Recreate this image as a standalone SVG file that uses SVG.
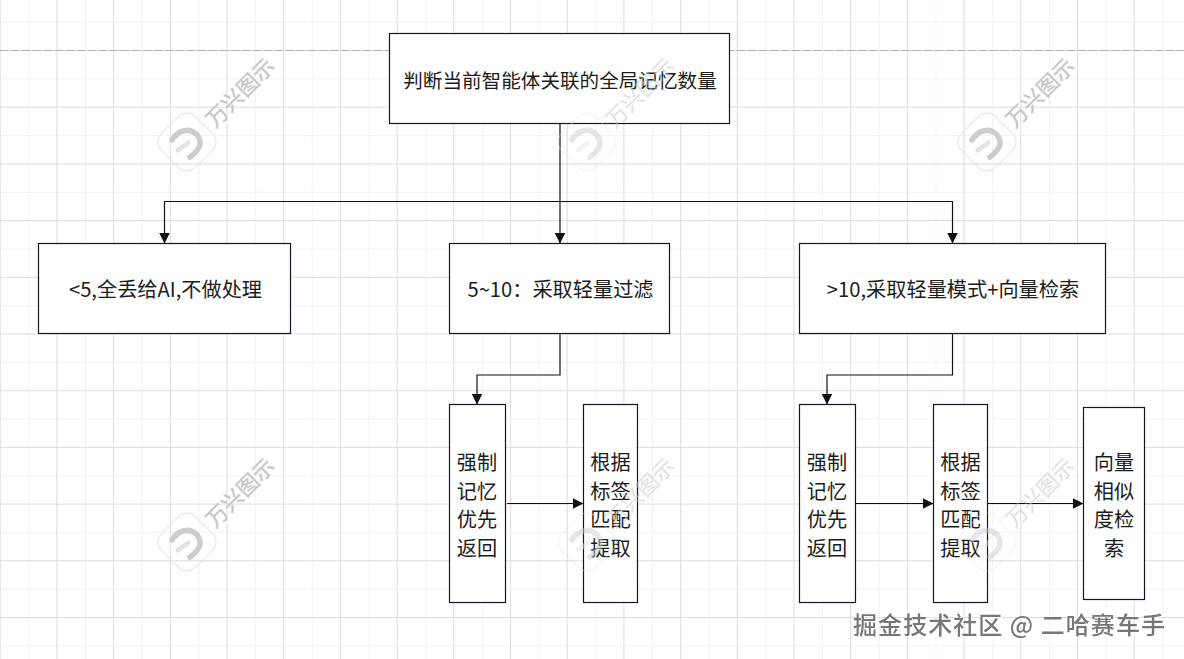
<svg xmlns="http://www.w3.org/2000/svg" xmlns:xlink="http://www.w3.org/1999/xlink" width="1184" height="659" viewBox="0 0 1184 659">
<style>
.node{fill:#fff;stroke:#14142b;stroke-width:1.2}
.lbl{font-family:"Noto Sans CJK SC","Liberation Sans",sans-serif;font-size:20.2px;fill:#1c1c1c;text-anchor:middle}
.top{font-size:19.6px}
.c{fill:none;stroke:#111;stroke-width:1.2;marker-end:url(#arr)}
.wm{font-family:"Noto Sans CJK SC",sans-serif;font-size:21.7px;font-weight:500;fill:#c8c8c8}
</style>
<defs>
<marker id="arr" markerUnits="userSpaceOnUse" markerWidth="12" markerHeight="12" refX="11" refY="5.5" orient="auto"><path d="M0 0L11 5.5L0 11Z" fill="#111"/></marker>
<pattern id="minor" width="56.7" height="56.7" patternUnits="userSpaceOnUse" x="28.3" y="21.7"><path d="M0.5 0V56.7M0 0.5H56.7" fill="none" stroke="#f2f2f4" stroke-width="1"/></pattern>
<pattern id="major" width="56.7" height="56.7" patternUnits="userSpaceOnUse" x="56.4" y="50"><path d="M0.5 0V56.7M0 0.5H56.7" fill="none" stroke="#dcdcde" stroke-width="1"/></pattern>
<g id="mark">
<rect x="-24" y="-24" width="48" height="48" rx="12" transform="rotate(-45)" fill="none" stroke="#e2e2e2" stroke-width="1"/>
<path d="M-15 -2C-9 -12 3 -15 10 -7C17 1 11 9 3 15" fill="none" stroke="#cdcdcd" stroke-width="5.5" stroke-linecap="round"/>
<path d="M-9 8L1 1" fill="none" stroke="#e4e4e4" stroke-width="5" stroke-linecap="round"/>
<text class="wm" x="28" y="-13" transform="rotate(-45 28 -13)">万兴图示</text>
</g>
</defs>
<rect width="1184" height="659" fill="#fff"/>
<rect id="grid-minor" width="1184" height="659" fill="url(#minor)"/>
<rect id="grid-major" width="1184" height="659" fill="url(#major)"/>
<path id="page-break" d="M0 50.5H1184" stroke="#b0b0b0" stroke-width="1" stroke-dasharray="8 3" fill="none"/>
<g id="connectors">
<path class="c" d="M560 123.5V243.5"/>
<path class="c" d="M560 201.5H164.5V243.5"/>
<path class="c" d="M560 201.5H952.5V243.5"/>
<path class="c" d="M560 333.5V375H477V404.5"/>
<path class="c" d="M952.5 333.5V375H827V404.5"/>
<path class="c" d="M507 503.5H583.5"/>
<path class="c" d="M855.5 503.5H933.5"/>
<path class="c" d="M987.5 503.5H1083.5"/>
</g>
<g id="watermarks-under">
<use xlink:href="#mark" href="#mark" x="187" y="142"/>
<use xlink:href="#mark" href="#mark" x="987" y="142"/>
<use xlink:href="#mark" href="#mark" x="187" y="542"/>
</g>
<g id="n-top"><rect class="node" x="389.5" y="33.5" width="340" height="90"/><text class="lbl top" x="560" y="88">判断当前智能体关联的全局记忆数量</text></g>
<g id="n-lt5"><rect class="node" x="38.5" y="243.5" width="252" height="90"/><text class="lbl" x="165.5" y="297">&lt;5,全丢给AI,不做处理</text></g>
<g id="n-5to10"><rect class="node" x="449.5" y="243.5" width="220" height="90"/><text class="lbl" x="560.5" y="297">5~10：采取轻量过滤</text></g>
<g id="n-gt10"><rect class="node" x="799.5" y="243.5" width="306" height="90"/><text class="lbl" x="953" y="297">&gt;10,采取轻量模式+向量检索</text></g>
<g id="n-a1"><rect class="node" x="449.5" y="404.5" width="56" height="198"/><text class="lbl" x="477"><tspan x="477" y="470">强制</tspan><tspan x="477" y="498.6">记忆</tspan><tspan x="477" y="527.2">优先</tspan><tspan x="477" y="555.8">返回</tspan></text></g>
<g id="n-a2"><rect class="node" x="583.5" y="404.5" width="54" height="198"/><text class="lbl" x="610.5"><tspan x="610.5" y="470">根据</tspan><tspan x="610.5" y="498.6">标签</tspan><tspan x="610.5" y="527.2">匹配</tspan><tspan x="610.5" y="555.8">提取</tspan></text></g>
<g id="n-b1"><rect class="node" x="799.5" y="404.5" width="56" height="198"/><text class="lbl" x="827"><tspan x="827" y="470">强制</tspan><tspan x="827" y="498.6">记忆</tspan><tspan x="827" y="527.2">优先</tspan><tspan x="827" y="555.8">返回</tspan></text></g>
<g id="n-b2"><rect class="node" x="933.5" y="404.5" width="54" height="198"/><text class="lbl" x="960.5"><tspan x="960.5" y="470">根据</tspan><tspan x="960.5" y="498.6">标签</tspan><tspan x="960.5" y="527.2">匹配</tspan><tspan x="960.5" y="555.8">提取</tspan></text></g>
<g id="n-b3"><rect class="node" x="1083.5" y="407.5" width="61" height="192"/><text class="lbl" x="1114"><tspan x="1114" y="470">向量</tspan><tspan x="1114" y="498.6">相似</tspan><tspan x="1114" y="527.2">度检</tspan><tspan x="1114" y="555.8">索</tspan></text></g>
<g id="watermarks-over" opacity="0.5">
<use xlink:href="#mark" href="#mark" x="587" y="142"/>
<use xlink:href="#mark" href="#mark" x="587" y="542"/>
<use xlink:href="#mark" href="#mark" x="987" y="542"/>
</g>
<text id="credit" x="853" y="634" font-family="'Noto Sans CJK SC',sans-serif" font-size="24px" font-weight="500" fill="#777" style="filter:drop-shadow(1px 1px 0 #fff)" textLength="312">掘金技术社区 @ 二哈赛车手</text>
</svg>
